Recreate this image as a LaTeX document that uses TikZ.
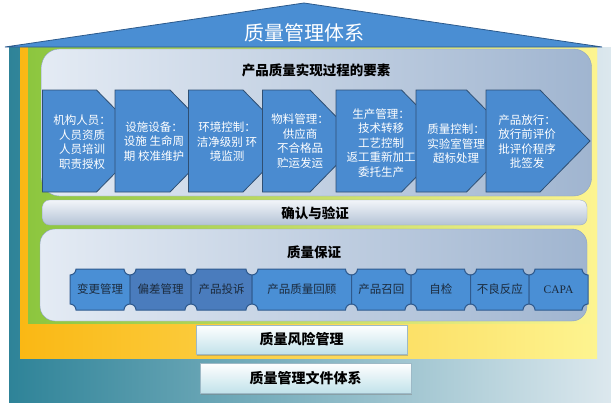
\documentclass[tikz,border=0pt]{standalone}
\usepackage{fontspec}
\setmainfont{Noto Sans CJK SC}
\newfontfamily\capafont{Liberation Serif}
\usepackage{tikz}
\usetikzlibrary{shadows}
\definecolor{basecyan}{HTML}{2E8398}
\definecolor{baselight}{HTML}{DCE8EE}
\definecolor{riskorange}{HTML}{FAB814}
\definecolor{riskyellow}{HTML}{FDF490}
\definecolor{gmpgreen}{HTML}{8CC63F}
\definecolor{roofblue}{HTML}{4A8ED3}
\definecolor{roofline}{HTML}{2C5A8C}
\definecolor{chevblue}{HTML}{4A8BD0}
\definecolor{chevline}{HTML}{2F4F73}
\definecolor{panellight}{HTML}{E4EBF4}
\definecolor{paneldark}{HTML}{A0B5D0}
\definecolor{panelline}{HTML}{8DA2C0}
\definecolor{barlight}{HTML}{F2F5F9}
\definecolor{bardark}{HTML}{B4C3D6}
\definecolor{barline}{HTML}{9CAEC6}
\definecolor{piecelight}{HTML}{4A8FD5}
\definecolor{piecedark}{HTML}{4A7CBD}
\definecolor{pieceline}{HTML}{2F5A8E}
\definecolor{piecetextcol}{HTML}{1B2A3C}
\definecolor{boxcyan}{HTML}{C2E2EA}
\definecolor{boxline}{HTML}{9DB9C6}
\tikzset{chevron/.style={fill=chevblue, draw=chevline, line width=0.8pt},
chevtext/.style={text=white, align=center, font=\fontsize{11.5}{14.5}\selectfont},
piece/.style={draw=pieceline, line width=1pt},
piecetext/.style={text=piecetextcol, font=\fontsize{11.5}{13}\selectfont},
heading/.style={font=\fontsize{13.5}{15}\selectfont\bfseries},
%the two foundation blocks under the house
basebox/.style={top color=white, bottom color=boxcyan, draw=boxline, line width=0.4pt,
  minimum width=211pt, minimum height=29pt, inner sep=0pt,
  drop shadow={shadow xshift=1pt, shadow yshift=-1.5pt, opacity=0.45},
  font=\fontsize{14}{16}\selectfont\bfseries}}
\begin{document}
\begin{tikzpicture}[x=1pt,y=-1pt]
\useasboundingbox (0,0) rectangle (611,402);
% layers
\fill[left color=basecyan, right color=baselight] (9,47) rectangle (611,402);
\fill[left color=riskorange, right color=riskyellow] (20,47) rectangle (597,358);
\fill[left color=gmpgreen, right color=riskyellow] (28,47) rectangle (597,323);

% roof
\draw[fill=roofblue, draw=roofline, line width=0.8pt] (5,47) -- (304,3) -- (602,47) -- cycle;
\node[text=white, font=\fontsize{20}{22}\selectfont] (title) at (304,33) {质量管理体系};

% product realization
\draw[rounded corners=18pt, left color=panellight, right color=paneldark, draw=panelline] (41.5,49) rectangle (591.5,196);
\node[heading] (prod) at (316,70) {产品质量实现过程的要素};
\foreach \xa/\xb/\tx/\ty/\txt [count=\i] in {
  42.5/96.5/82/142/{机构人员：\\人员资质\\人员培训\\职责授权},
  115/170/154/141.5/{设施设备：\\设施 生命周\\期 校准维护},
  188.5/243/227/142/{环境控制：\\洁净级别 环\\境监测},
  262.5/310/300/141/{物料管理：\\供应商\\不合格品\\贮运发运},
  336/401.5/381/143/{生产管理：\\技术转移\\工艺控制\\返工重新加工\\委托生产},
  416/466.5/456/144/{质量控制：\\实验室管理\\超标处理},
  486/540/527/141.5/{产品放行：\\放行前评价\\批评价程序\\批签发}}
{
  \draw[chevron] (\xa,90) -- (\xb,90) -- (\xb+50,141) -- (\xb,192) -- (\xa,192) -- cycle;
  \node[chevtext] (step\i) at (\tx,\ty) {\txt};
}

% validation
\draw[rounded corners=7pt, top color=barlight, bottom color=bardark, draw=barline] (42.5,200) rectangle (587,225);
\node[heading] (valid) at (315,213) {确认与验证};

% quality assurance
\draw[rounded corners=15pt, left color=panellight, right color=paneldark, draw=panelline] (40,229) rectangle (587,321);
\node[heading] (qa) at (314,252) {质量保证};
\foreach \xa/\xb/\col/\txt [count=\i] in {70/130/piecelight/变更管理, 130/191/piecedark/偏差管理,
  191/252/piecedark/产品投诉, 252/351.5/piecelight/产品质量回顾, 351.5/411/piecelight/产品召回,
  411/470.5/piecelight/自检, 470.5/529/piecelight/不良反应, 529/588/piecelight/{\capafont CAPA}}
{
  \draw[piece, fill=\col] (\xa+6,269) -- (\xb-6,269) arc (180:90:6) -- (\xb,304) arc (270:180:6)
    -- (\xa+6,310) arc (0:-90:6) -- (\xa,275) arc (90:0:6) -- cycle;
  \node[piecetext] (qa\i) at ({(\xa+\xb)/2},289.5) {\txt};
}

% foundation
\node[basebox] (risk) at (301.5,339.5) {质量风险管理};
\node[basebox, minimum height=30pt] (docs) at (305.5,378) {质量管理文件体系};
\end{tikzpicture}
\end{document}
